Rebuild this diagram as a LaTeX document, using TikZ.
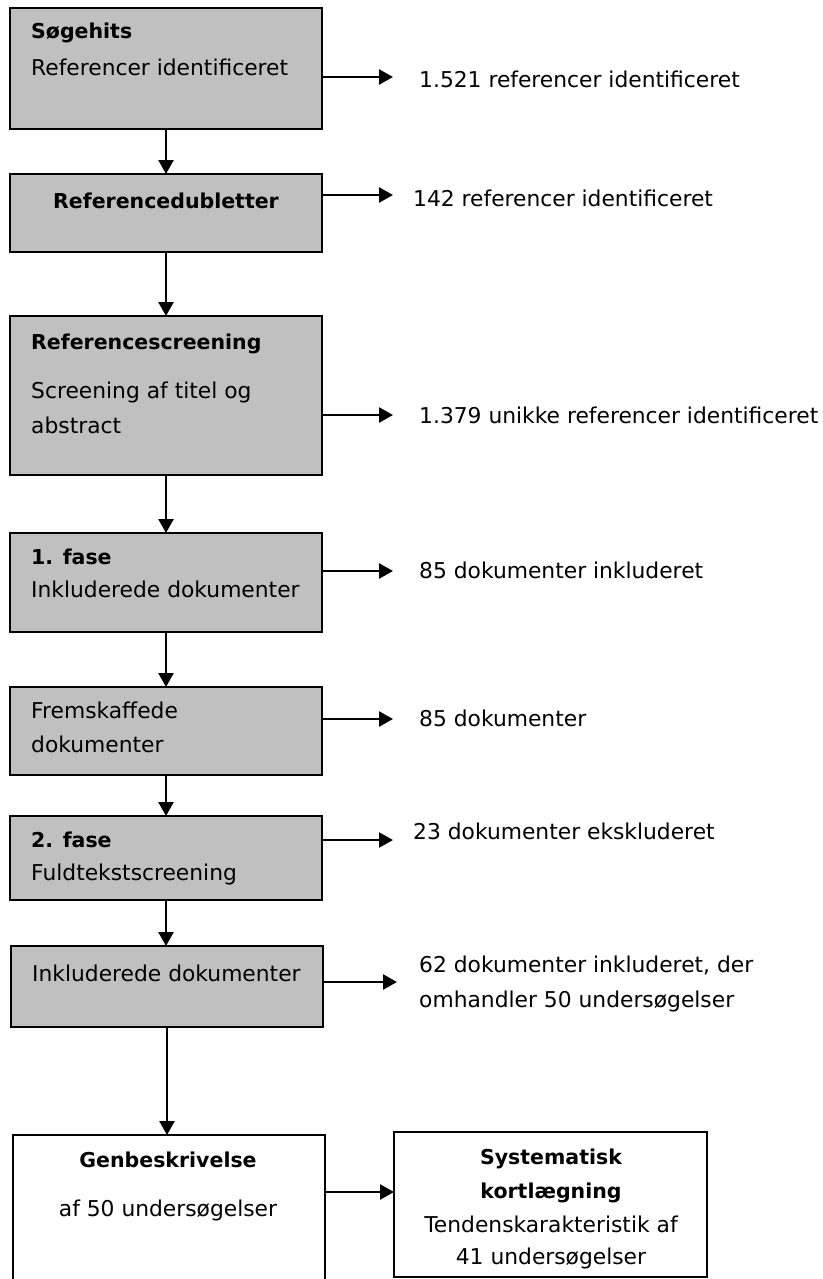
\documentclass[tikz,border=0pt]{standalone}
\usepackage{fontspec}
\setmainfont{DejaVu Sans}
\usetikzlibrary{arrows.meta,calc}
\definecolor{boxgray}{RGB}{192,192,192}
\tikzset{
  gbox/.style={draw=black, line width=2pt, fill=boxgray, inner sep=0pt, outer sep=0pt},
  wbox/.style={draw=black, line width=2.8pt, fill=white, inner sep=0pt, outer sep=0pt},
  arr/.style={line width=2.5pt, -{Triangle[length=14pt,width=15pt]}},
  txt/.style={inner sep=0pt, font=\fontsize{21.8}{26}\selectfont},
  btxt/.style={inner sep=0pt, font=\fontsize{20.5}{25}\selectfont\bfseries},
}
\begin{document}
\begin{tikzpicture}[x=1pt,y=-1pt]
\useasboundingbox (0,0) rectangle (822,1279);
% boxes
\node[gbox, minimum width=312pt, minimum height=121pt] (b1) at (166,68.5) {};
\node[gbox, minimum width=312pt, minimum height=78pt] (b2) at (166,213) {};
\node[gbox, minimum width=312pt, minimum height=159pt] (b3) at (166,395.5) {};
\node[gbox, minimum width=312pt, minimum height=99pt] (b4) at (166,582.5) {};
\node[gbox, minimum width=312pt, minimum height=88pt] (b5) at (166,731) {};
\node[gbox, minimum width=312pt, minimum height=84pt] (b6) at (166,858) {};
\node[gbox, minimum width=312pt, minimum height=81pt] (b7) at (167,986.5) {};
\node[wbox, minimum width=312pt, minimum height=165pt] (b8) at (169,1217.5) {};
\node[wbox, minimum width=313pt, minimum height=145pt] (b9) at (550.5,1204.5) {};
% box texts
\node[btxt, anchor=base west] (t1a) at (31,39) {Søgehits};
\node[txt, anchor=base west] (t1b) at (31,76) {Referencer identificeret};
\node[btxt, anchor=base] (t2a) at (166,208) {Referencedubletter};
\node[btxt, anchor=base west] (t3a) at (31,349) {Referencescreening};
\node[txt, anchor=base west] (t3b) at (31,398) {Screening af titel og};
\node[txt, anchor=base west] (t3c) at (31,433) {abstract};
\node[btxt, anchor=base west] (t4a) at (31,564) {1. fase};
\node[txt, anchor=base west] (t4b) at (31,597) {Inkluderede dokumenter};
\node[txt, anchor=base west] (t5a) at (31,718) {Fremskaffede};
\node[txt, anchor=base west] (t5b) at (31,752) {dokumenter};
\node[btxt, anchor=base west] (t6a) at (31,847) {2. fase};
\node[txt, anchor=base west] (t6b) at (31,880) {Fuldtekstscreening};
\node[txt, anchor=base west] (t7a) at (32,981) {Inkluderede dokumenter};
\node[btxt, anchor=base] (t8a) at (168,1167) {Genbeskrivelse};
\node[txt, anchor=base] (t8b) at (168,1216) {af 50 undersøgelser};
\node[btxt, anchor=base] (t9a) at (551,1164) {Systematisk};
\node[btxt, anchor=base] (t9b) at (551,1198) {kortlægning};
\node[txt, anchor=base] (t9c) at (551,1232) {Tendenskarakteristik af};
\node[txt, anchor=base] (t9d) at (551,1264) {41 undersøgelser};
% right texts
\node[txt, anchor=base west] (r1) at (419,88) {1.521 referencer identificeret};
\node[txt, anchor=base west] (r2) at (413,206) {142 referencer identificeret};
\node[txt, anchor=base west] (r3) at (419,423) {1.379 unikke referencer identificeret};
\node[txt, anchor=base west] (r4) at (419,578) {85 dokumenter inkluderet};
\node[txt, anchor=base west] (r5) at (419,726) {85 dokumenter};
\node[txt, anchor=base west] (r6) at (413,839) {23 dokumenter ekskluderet};
\node[txt, anchor=base west] (r7a) at (419,972) {62 dokumenter inkluderet, der};
\node[txt, anchor=base west] (r7b) at (419,1007) {omhandler 50 undersøgelser};
% arrow end points
\coordinate (e1) at (393,77);
\coordinate (e2) at (393,195);
\coordinate (e3) at (393,415);
\coordinate (e4) at (393,571);
\coordinate (e5) at (393,719);
\coordinate (e6) at (393,840);
\coordinate (e7) at (397,982);
\coordinate (e8) at (394,1192);
% vertical arrows
\draw[arr] (b1.south) -- (b2.north);
\draw[arr] (b2.south) -- (b3.north);
\draw[arr] (b3.south) -- (b4.north);
\draw[arr] (b4.south) -- (b5.north);
\draw[arr] (b5.south) -- (b6.north);
\draw[arr] (b6.south) -- (b6.south |- b7.north);
\draw[arr] (b7.south) -- (b7.south |- b8.north);
% horizontal arrows
\draw[arr] (b1.east |- e1) -- (e1);
\draw[arr] (b2.east |- e2) -- (e2);
\draw[arr] (b3.east |- e3) -- (e3);
\draw[arr] (b4.east |- e4) -- (e4);
\draw[arr] (b5.east |- e5) -- (e5);
\draw[arr] (b6.east |- e6) -- (e6);
\draw[arr] (b7.east |- e7) -- (e7);
\draw[arr] (b8.east |- e8) -- (b9.west |- e8);
\end{tikzpicture}
\end{document}
